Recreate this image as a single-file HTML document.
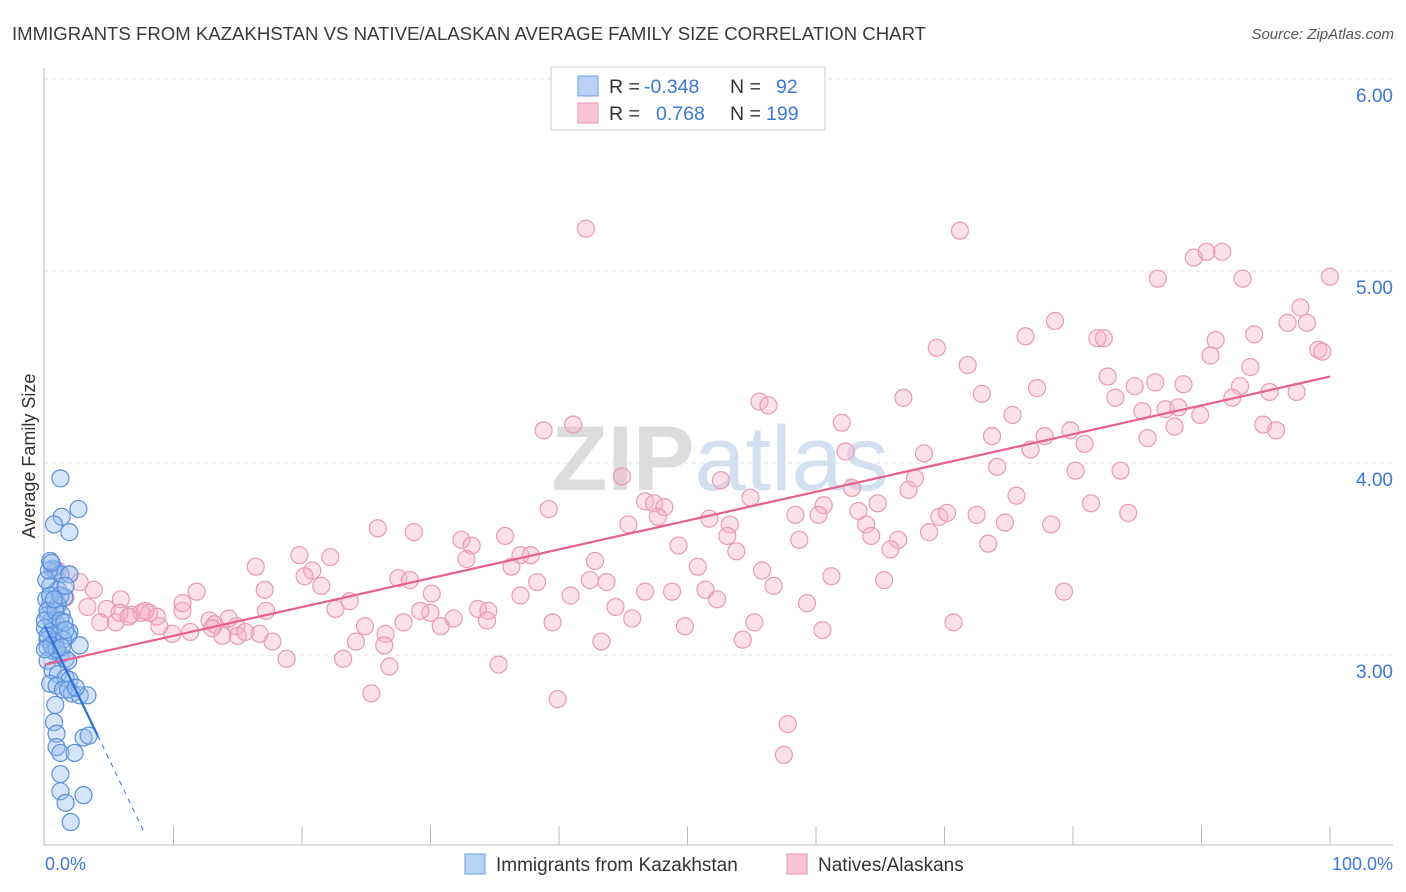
<!DOCTYPE html>
<html><head><meta charset="utf-8">
<style>
body{margin:0;background:#fff;font-family:"Liberation Sans",sans-serif;}
#wrap{position:relative;width:1406px;height:892px;overflow:hidden;}
svg text{font-family:"Liberation Sans",sans-serif;}
</style></head>
<body>
<div id="wrap">
<svg id="chart" width="1406" height="892">
  <text x="12" y="40" font-size="18.6" fill="#3a3a3a">IMMIGRANTS FROM KAZAKHSTAN VS NATIVE/ALASKAN AVERAGE FAMILY SIZE CORRELATION CHART</text>
  <text x="1394" y="39" font-size="15" fill="#555" font-style="italic" text-anchor="end">Source: ZipAtlas.com</text>
  <text x="720" y="490" font-size="92" fill="#e4e4e4" text-anchor="middle" font-family="Liberation Serif"><tspan font-weight="bold" fill="#dcdcdc">ZIP</tspan><tspan fill="#d4e0f0" font-family="Liberation Sans">atlas</tspan></text>
  <g id="grid"></g>
  <g id="axes"></g>
  <g id="pinkpts"></g>
  <g id="bluepts"></g>
  <g id="lines"></g>
  <text x="35" y="456" font-size="18" fill="#333" text-anchor="middle" transform="rotate(-90 35 456)">Average Family Size</text>
  <text x="45" y="870" font-size="18" fill="#3b78d6">0.0%</text>
  <text x="1393" y="870" font-size="18" fill="#3b78d6" text-anchor="end">100.0%</text>
  <g>
    <rect x="551" y="67" width="274" height="63" fill="#fff" stroke="#ccc"/>
    <rect x="578" y="76" width="20" height="20" fill="#b8d2f5" stroke="#6d9de0"/>
    <rect x="578" y="103" width="20" height="20" fill="#f9c4d4" stroke="#e893ad"/>
    <text x="609" y="93" font-size="19.5" fill="#333">R = </text>
    <text x="644" y="93" font-size="19.5" fill="#3b78d6">-0.348</text>
    <text x="730" y="93" font-size="19.5" fill="#333">N = </text>
    <text x="776" y="93" font-size="19.5" fill="#3b78d6">92</text>
    <text x="609" y="120" font-size="19.5" fill="#333">R = </text>
    <text x="656" y="120" font-size="19.5" fill="#3b78d6">0.768</text>
    <text x="730" y="120" font-size="19.5" fill="#333">N = </text>
    <text x="766" y="120" font-size="19.5" fill="#3b78d6">199</text>
  </g>
  <g>
    <rect x="465" y="854" width="20" height="20" fill="#b8d2f5" stroke="#6d9de0"/>
    <text x="496" y="871" font-size="19" fill="#333">Immigrants from Kazakhstan</text>
    <rect x="787" y="854" width="20" height="20" fill="#f9c4d4" stroke="#e893ad"/>
    <text x="818" y="871" font-size="19" fill="#333">Natives/Alaskans</text>
  </g>
</svg>
</div>
<script>
const yTicks=[3,4,5,6];
const yTickLabels=["3.00","4.00","5.00","6.00"];
const xTicks=[10,20,30,40,50,60,70,80,90,100];
const pinkX=[42.1,71.2,100,86.6,89.4,90.4,91.6,93.2,78.6,76.3,81.9,82.4,96.7,98.2,97.7,94.1,91.1,90.7,99.1,99.4,69.4,71.8,93.8,82.7,77.2,72.9,84.8,86.4,88.6,83.3,93.0,95.3,97.4,92.4,55.6,56.3,66.8,62.0,75.3,85.4,87.2,87.9,89.9,88.2,41.1,38.8,73.7,79.8,77.8,94.8,95.8,85.8,80.9,62.3,76.7,68.4,74.1,80.2,83.7,44.9,67.7,46.7,52.6,62.8,67.2,54.9,47.4,48.2,47.7,64.8,75.6,81.4,39.2,60.6,60.2,63.3,69.6,70.2,72.5,84.3,51.7,53.3,58.4,45.4,63.9,74.7,78.3,25.9,28.7,53.1,64.3,66.4,68.8,35.8,32.4,33.2,32.8,37.0,37.8,49.3,53.8,58.7,65.8,73.4,19.8,22.2,16.4,20.8,20.2,42.8,50.8,55.8,36.3,21.5,27.5,28.4,38.3,42.4,43.7,51.4,56.7,61.2,65.3,79.3,11.8,23.7,30.1,30.0,37.0,40.9,44.4,46.7,48.8,52.3,59.3,17.1,17.2,22.6,29.2,33.7,34.5,45.7,49.8,39.5,55.2,60.5,70.7,27.9,30.8,31.8,34.4,24.9,26.5,24.2,26.4,43.3,54.3,17.7,18.8,23.2,26.8,35.3,25.4,39.9,57.8,57.5,10.7,12.8,13.2,14.9,15.0,15.6,13.8,14.3,16.7,13.0,8.1,7.5,8.9,8.7,9.9,11.3,5.9,4.8,5.5,6.7,7.8,10.7,1.9,1.0,2.7,3.8,3.3,5.8,4.3,0.9,1.6,6.5];
const pinkY=[5.22,5.21,4.97,4.96,5.07,5.10,5.10,4.96,4.74,4.66,4.65,4.65,4.73,4.73,4.81,4.67,4.64,4.56,4.59,4.58,4.60,4.51,4.50,4.45,4.39,4.36,4.40,4.42,4.41,4.34,4.40,4.37,4.37,4.34,4.32,4.30,4.34,4.21,4.25,4.27,4.28,4.19,4.25,4.29,4.20,4.17,4.14,4.17,4.14,4.20,4.17,4.13,4.10,4.06,4.07,4.05,3.98,3.96,3.96,3.93,3.92,3.80,3.91,3.87,3.86,3.82,3.79,3.77,3.72,3.79,3.83,3.79,3.76,3.78,3.73,3.75,3.72,3.74,3.73,3.74,3.71,3.68,3.73,3.68,3.68,3.69,3.68,3.66,3.64,3.62,3.62,3.60,3.64,3.62,3.60,3.57,3.50,3.52,3.52,3.57,3.54,3.60,3.55,3.58,3.52,3.51,3.46,3.44,3.41,3.49,3.46,3.44,3.46,3.36,3.40,3.39,3.38,3.39,3.38,3.34,3.36,3.41,3.39,3.33,3.33,3.28,3.32,3.22,3.31,3.31,3.25,3.33,3.33,3.29,3.27,3.34,3.23,3.24,3.23,3.24,3.23,3.19,3.15,3.17,3.17,3.13,3.17,3.17,3.15,3.19,3.18,3.15,3.11,3.07,3.05,3.07,3.08,3.07,2.98,2.98,2.94,2.95,2.80,2.77,2.64,2.48,3.23,3.18,3.16,3.15,3.10,3.12,3.10,3.19,3.11,3.14,3.22,3.22,3.15,3.20,3.11,3.12,3.29,3.24,3.17,3.21,3.23,3.27,3.42,3.44,3.38,3.34,3.25,3.22,3.17,3.25,3.30,3.20];
const blueX=[1.2,2.6,1.3,0.7,1.9,0.6,0.8,1.2,1.9,0.4,1.0,1.5,0.4,1.0,1.3,0.2,0.5,0.9,0.0,0.4,1.2,1.9,1.8,0.2,0.8,1.4,2.7,0.2,0.7,1.2,1.6,0.2,0.6,1.0,1.6,1.9,0.4,0.9,1.4,2.1,2.7,3.3,0.8,0.7,0.9,0.9,1.2,2.3,3.0,3.4,1.2,1.2,1.6,3.0,2.0,0.1,0.4,0.1,0.2,0.0,0.8,1.2,1.5,1.6,0.2,0.5,0.9,1.3,0.0,1.8,2.4,1.8,1.2,1.6,0.3,0.7,0.4,0.5];
const blueY=[3.92,3.76,3.72,3.68,3.64,3.45,3.44,3.42,3.42,3.36,3.34,3.30,3.26,3.26,3.21,3.21,3.18,3.16,3.14,3.12,3.12,3.12,3.10,3.08,3.07,3.08,3.05,3.04,3.02,3.00,2.98,2.97,2.92,2.90,2.88,2.87,2.85,2.84,2.82,2.80,2.79,2.79,2.74,2.65,2.59,2.52,2.49,2.49,2.57,2.58,2.38,2.29,2.23,2.27,2.13,3.29,3.31,3.39,3.23,3.18,3.23,3.18,3.17,3.13,3.10,3.05,3.03,3.04,3.03,2.82,2.83,2.97,3.31,3.36,3.44,3.29,3.49,3.48];
const pinkTrend=[2.95,4.45]; // value at 0% and 100%
const blueTrend=[3.15,-0.139]; // intercept, slope per %
const blueSolidEnd=4.1, blueDashEnd=7.8;

const X0=45,X1=1330,YB=655,PPU=192;
const sx=v=>X0+(X1-X0)*v/100;
const sy=v=>YB-(v-3)*PPU;
const NS="http://www.w3.org/2000/svg";
function mk(tag,attrs,parent){const e=document.createElementNS(NS,tag);for(const k in attrs)e.setAttribute(k,attrs[k]);parent.appendChild(e);return e;}
const grid=document.getElementById('grid'),axes=document.getElementById('axes');
yTicks.forEach((t,i)=>{
  const l=mk('line',{x1:44,x2:1393,y1:sy(t),y2:sy(t),stroke:'#dcdcdc','stroke-dasharray':'4,4'},grid);
  
  
  const tx=mk('text',{x:1393,y:sy(t)+23,'font-size':19,fill:'#3b78d6','text-anchor':'end'},grid);
  tx.textContent=yTickLabels[i];
  
  
});
const ya=mk('line',{x1:44,x2:44,y1:68,y2:845,stroke:'#bbb'},axes);


const xa=mk('line',{x1:44,x2:1393,y1:845,y2:845,stroke:'#bbb'},axes);


xTicks.forEach(t=>{
  const l=mk('line',{x1:sx(t),x2:sx(t),y1:826,y2:845,stroke:'#bbb'},axes);
  
  
});
const pg=document.getElementById('pinkpts');
pinkX.forEach((x,i)=>{
  const c=mk('circle',{cx:sx(x),cy:sy(pinkY[i]),r:8.5,fill:'rgba(246,176,198,0.38)',stroke:'#e99ab4','stroke-width':1.2},pg);
  
  
});
const bg=document.getElementById('bluepts');
blueX.forEach((x,i)=>{
  const c=mk('circle',{cx:sx(x),cy:sy(blueY[i]),r:8.5,fill:'rgba(150,190,240,0.4)',stroke:'#5a8fdc','stroke-width':1.2},bg);
  
  
});
const lg=document.getElementById('lines');
const pl=mk('line',{x1:sx(0),y1:sy(pinkTrend[0]),x2:sx(100),y2:sy(pinkTrend[1]),stroke:'#e8608f','stroke-width':2.2},lg);


const bf=x=>blueTrend[0]+blueTrend[1]*x;
const bl=mk('line',{x1:sx(0),y1:sy(bf(0)),x2:sx(blueSolidEnd),y2:sy(bf(blueSolidEnd)),stroke:'#2f6fd6','stroke-width':2.2},lg);


const bd=mk('line',{x1:sx(blueSolidEnd),y1:sy(bf(blueSolidEnd)),x2:sx(blueDashEnd),y2:sy(bf(blueDashEnd)),stroke:'#2f6fd6','stroke-width':1,'stroke-dasharray':'5,5'},lg);


</script>
</body></html>
